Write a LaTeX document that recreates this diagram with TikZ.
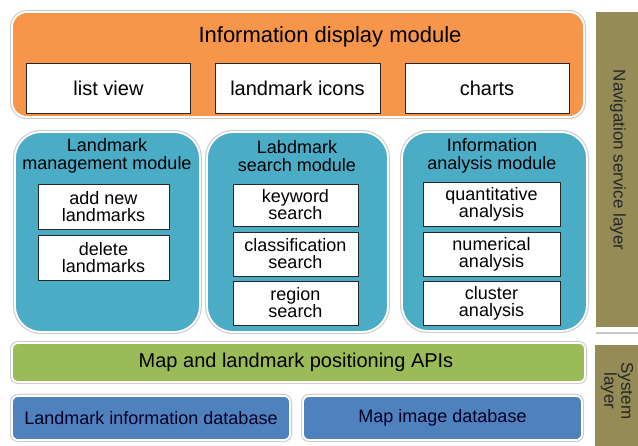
\documentclass[tikz,border=0pt]{standalone}
\usepackage{fontspec}
\setmainfont{Liberation Sans}
\definecolor{dispor}{HTML}{F7964A}
\definecolor{modteal}{HTML}{4BACC6}
\definecolor{apigreen}{HTML}{9BBB59}
\definecolor{dbblue}{HTML}{4F81BD}
\definecolor{layerolive}{HTML}{958B57}
\tikzset{
  panel/.style={rounded corners=#1, draw=white, line width=1.8pt,
    preaction={draw=black!20, line width=4pt},
    inner sep=0pt},
  panel/.default=6pt,
  leaf/.style={draw=black!85, line width=0.9pt, fill=white, inner sep=0pt,
    align=center, font=\fontsize{18}{17}\selectfont},
  layerbar/.style={fill=layerolive, draw=none, inner sep=0pt},
  modtitle/.style={align=center, font=\fontsize{18}{18}\selectfont, inner sep=0pt},
}
\begin{document}
\begin{tikzpicture}[x=1pt,y=-1pt]
\useasboundingbox (0,0) rectangle (638,446);
\fill[white] (0,0) rectangle (638,446);

% application layer: display module
\node[panel=15pt, fill=dispor, minimum width=572pt, minimum height=105pt] (disp) at (298,64.5) {};
\node[font=\fontsize{22}{22}\selectfont, inner sep=0pt] (dispt) at (330,37) {Information display module};
\node[leaf, minimum width=164pt, minimum height=50pt, font=\fontsize{20}{20}\selectfont] (list) at (108.5,88) {list view};
\node[leaf, minimum width=165pt, minimum height=50pt, font=\fontsize{20}{20}\selectfont] (icons) at (297.5,88) {landmark icons};
\node[leaf, minimum width=164pt, minimum height=50pt, font=\fontsize{20}{20}\selectfont] (charts) at (487,88) {charts};

% three function modules
\node[panel=26pt, fill=modteal, minimum width=185pt, minimum height=200pt] (mgmt) at (107.5,232) {};
\node[panel=26pt, fill=modteal, minimum width=181pt, minimum height=200pt] (srch) at (297.5,232) {};
\node[panel=26pt, fill=modteal, minimum width=185pt, minimum height=199pt] (anal) at (494.5,231.5) {};

\node[modtitle] (mgmtt) at (107,156) {Landmark\\management module};
\node[modtitle] (srcht) at (297,156) {Labdmark\\search module};
\node[modtitle] (analt) at (492,156) {Information\\analysis module};

\node[leaf, minimum width=131pt, minimum height=45pt] (addl) at (103.5,206.5) {add new\\landmarks};
\node[leaf, minimum width=131pt, minimum height=45pt] (dell) at (103.5,257.5) {delete\\landmarks};

\node[leaf, minimum width=125pt, minimum height=42pt] (kw) at (295.5,205) {keyword\\search};
\node[leaf, minimum width=125pt, minimum height=44pt] (cls) at (295.5,254) {classification\\search};
\node[leaf, minimum width=125pt, minimum height=44pt] (reg) at (295.5,303) {region\\search};

\node[leaf, minimum width=137pt, minimum height=44pt] (quan) at (491.5,204) {quantitative\\analysis};
\node[leaf, minimum width=137pt, minimum height=44pt] (num) at (491.5,254) {numerical\\analysis};
\node[leaf, minimum width=137pt, minimum height=44pt] (clu) at (491.5,303) {cluster\\analysis};

% system layer
\node[panel=6pt, fill=apigreen, minimum width=573pt, minimum height=39pt] (api) at (298.5,362.5) {};
\node[font=\fontsize{20}{20}\selectfont, inner sep=0pt] (apit) at (296,362.5) {Map and landmark positioning APIs};
\node[panel=6pt, fill=dbblue, minimum width=278pt, minimum height=44pt,
      font=\fontsize{18}{18}\selectfont, text=black!85!blue] (ldb) at (151,418) {Landmark information database};
\node[panel=6pt, fill=dbblue, minimum width=279pt, minimum height=44pt,
      font=\fontsize{18}{18}\selectfont, text=black!85!blue] (mdb) at (442.5,418) {Map image database};

% layer labels on the right
\node[layerbar, minimum width=42pt, minimum height=315pt] (nav) at (617,169.5) {};
\node[rotate=-90, font=\fontsize{17}{17}\selectfont, text=black!85, inner sep=0pt] (navt) at (618,160) {Navigation service layer};
\coordinate (sepl) at (596,333);
\coordinate (sepr) at (638,333);
\draw[black!22, line width=1.2pt] (sepl) -- (sepr);
\node[layerbar, minimum width=43pt, minimum height=101pt] (sys) at (616.5,395.5) {};
\node[rotate=-90, align=center, font=\fontsize{17}{15}\selectfont, text=black!85, inner sep=0pt] (syst) at (617,391) {System\\layer};
\end{tikzpicture}
\end{document}
